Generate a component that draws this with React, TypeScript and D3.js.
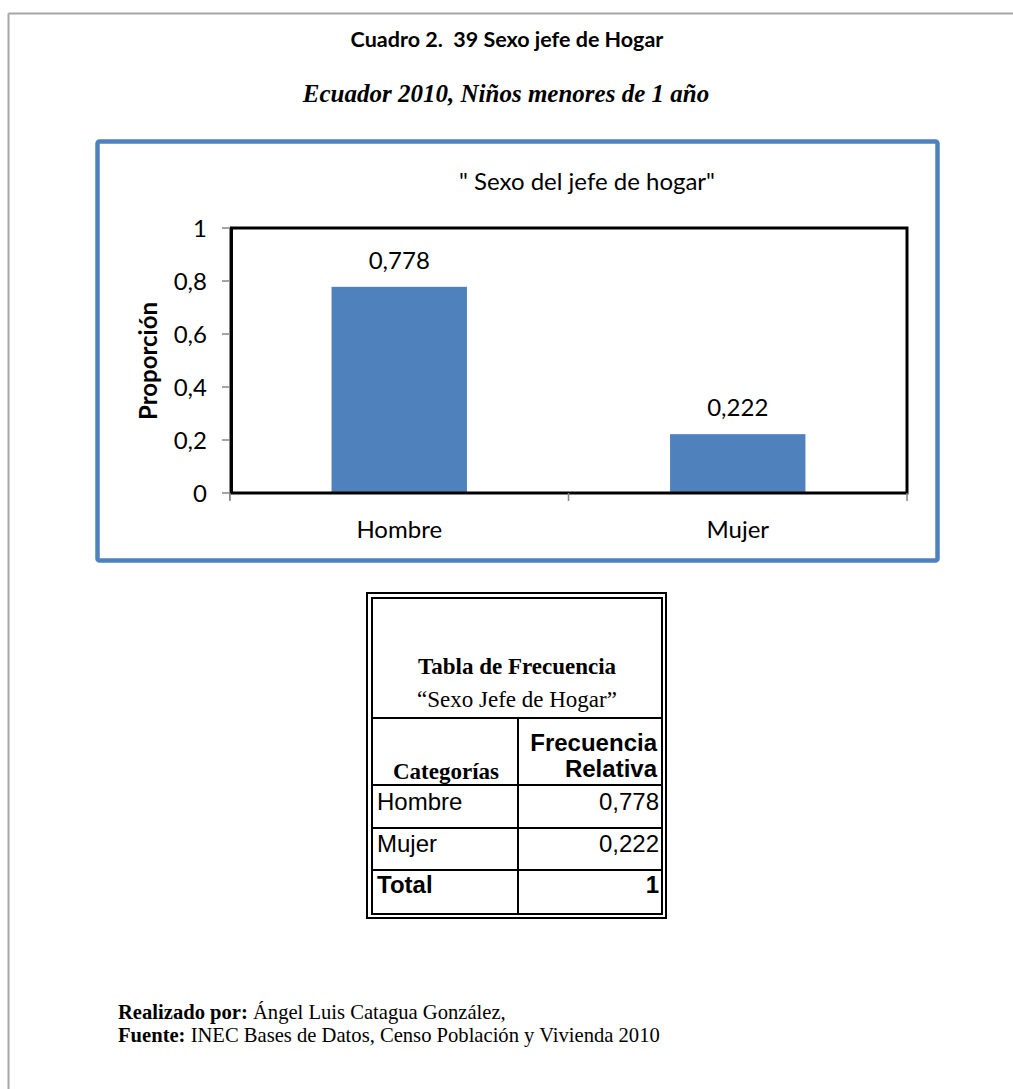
import React from "react";
import * as d3 from "d3";

const categories = ["Hombre", "Mujer"];
const values = [0.778, 0.222];
const yTicks = [0, 0.2, 0.4, 0.6, 0.8, 1];
const tableRows = [
  { cat: "Hombre", val: "0,778" },
  { cat: "Mujer", val: "0,222" },
];
const tableTotal = { cat: "Total", val: "1" };

const fmt = (v: number) => String(v).replace(".", ",");

const CAL = "Lato, 'Open Sans', sans-serif";
const TIMES = "'Liberation Serif', 'Times New Roman', serif";
const ARIAL = "'Liberation Sans', Arial, sans-serif";

export default function App() {
  const W = 1013;
  const H = 1089;
  const px0 = 230, px1 = 907, py0 = 228, py1 = 493;
  const x = d3.scaleBand<string>().domain(categories).range([px0, px1]).padding(0);
  const y = d3.scaleLinear().domain([0, 1]).range([py1, py0]);
  const barW = x.bandwidth() * 0.4;
  const axisGray = "#868686";
  const FS = 24;

  // table geometry
  const tL = 367, tR = 666, tT = 593, tB = 918;
  const iL = 372, iR = 662, iT = 598, iB = 914;
  const colX = 518;
  const hTitle = 718, hHead = 785, hR1 = 828, hR2 = 870;
  const TFS = 23;
  const AFS = 24;

  return (
    <div style={{ position: "absolute", left: 0, top: 0 }}>
      <svg width={W} height={H} style={{ display: "block", background: "#fff" }}>
        {/* page frame */}
        <line x1={8.5} y1={13.5} x2={W} y2={13.5} stroke="#a6a6a6" strokeWidth={2} />
        <line x1={8.5} y1={13.5} x2={8.5} y2={H} stroke="#a6a6a6" strokeWidth={2} />

        <text x={507} y={47} textAnchor="middle" fontFamily={CAL} fontWeight="bold" fontSize={21.5}>
          Cuadro 2.{"\u00A0\u00A0"}39 Sexo jefe de Hogar
        </text>
        <text x={506} y={102} textAnchor="middle" fontFamily={TIMES} fontWeight="bold" fontStyle="italic" fontSize={25}>
          Ecuador 2010, Niños menores de 1 año
        </text>

        {/* chart frame */}
        <rect x={97.5} y={141.5} width={840} height={419} fill="#fff" stroke="#4f81bd" strokeWidth={4.5} rx={2} />

        <text x={587} y={190} textAnchor="middle" fontFamily={CAL} fontSize={FS}>
          " Sexo del jefe de hogar"
        </text>

        {/* bars */}
        {categories.map((c, i) => (
          <rect
            key={c}
            x={(x(c) as number) + (x.bandwidth() - barW) / 2}
            y={y(values[i])}
            width={barW}
            height={y(0) - y(values[i])}
            fill="#4f81bd"
          />
        ))}
        {categories.map((c, i) => (
          <text
            key={c + "l"}
            x={(x(c) as number) + x.bandwidth() / 2}
            y={y(values[i]) - 18}
            textAnchor="middle"
            fontFamily={CAL}
            fontSize={FS}
          >
            {fmt(values[i])}
          </text>
        ))}

        {/* plot border */}
        <rect x={px0 + 1.5} y={py0} width={px1 - px0 - 1.5} height={py1 - py0} fill="none" stroke="#000" strokeWidth={3} />

        {/* y axis */}
        <line x1={px0 - 0.5} y1={py0} x2={px0 - 0.5} y2={py1 + 7} stroke={axisGray} strokeWidth={1} />
        {yTicks.map((t) => (
          <g key={t}>
            <line x1={px0 - 8} x2={px0} y1={y(t)} y2={y(t)} stroke={axisGray} strokeWidth={1.5} />
            <text x={px0 - 23} y={y(t) + 8.5} textAnchor="end" fontFamily={CAL} fontSize={FS}>
              {fmt(t)}
            </text>
          </g>
        ))}
        {/* x axis ticks */}
        {[px0, px0 + x.step(), px1].map((tx, i) => (
          <line key={i} x1={tx} x2={tx} y1={py1} y2={py1 + 8} stroke={axisGray} strokeWidth={1.5} />
        ))}
        {categories.map((c) => (
          <text
            key={c + "x"}
            x={(x(c) as number) + x.bandwidth() / 2}
            y={538}
            textAnchor="middle"
            fontFamily={CAL}
            fontSize={FS}
          >
            {c}
          </text>
        ))}
        <text
          transform={`translate(157,361) rotate(-90)`}
          textAnchor="middle"
          fontFamily={CAL}
          fontWeight="bold"
          fontSize={FS}
        >
          Proporción
        </text>

        {/* table */}
        <rect x={tL} y={tT} width={tR - tL} height={tB - tT} fill="none" stroke="#000" strokeWidth={2} />
        <rect x={iL} y={iT} width={iR - iL} height={iB - iT} fill="none" stroke="#000" strokeWidth={2} />
        {[hTitle, hHead, hR1, hR2].map((hy) => (
          <line key={hy} x1={iL} x2={iR} y1={hy} y2={hy} stroke="#000" strokeWidth={2} />
        ))}
        <line x1={colX} x2={colX} y1={hTitle} y2={iB} stroke="#000" strokeWidth={2} />

        <text x={517} y={674} textAnchor="middle" fontFamily={TIMES} fontWeight="bold" fontSize={TFS}>
          Tabla de Frecuencia
        </text>
        <text x={517} y={707} textAnchor="middle" fontFamily={TIMES} fontSize={TFS}>
          “Sexo Jefe de Hogar”
        </text>
        <text x={446} y={779} textAnchor="middle" fontFamily={TIMES} fontWeight="bold" fontSize={TFS}>
          Categorías
        </text>
        <text x={657} y={751} textAnchor="end" fontFamily={ARIAL} fontWeight="bold" fontSize={AFS}>
          Frecuencia
        </text>
        <text x={657} y={777} textAnchor="end" fontFamily={ARIAL} fontWeight="bold" fontSize={AFS}>
          Relativa
        </text>
        {tableRows.map((r, i) => {
          const base = [810, 852][i];
          return (
            <g key={r.cat}>
              <text x={377} y={base} fontFamily={ARIAL} fontSize={AFS}>{r.cat}</text>
              <text x={659} y={base} textAnchor="end" fontFamily={ARIAL} fontSize={AFS}>{r.val}</text>
            </g>
          );
        })}
        <text x={377} y={893} fontFamily={ARIAL} fontWeight="bold" fontSize={AFS}>{tableTotal.cat}</text>
        <text x={659} y={893} textAnchor="end" fontFamily={ARIAL} fontWeight="bold" fontSize={AFS}>{tableTotal.val}</text>

        {/* footer */}
        <text x={118} y={1019} fontFamily={TIMES} fontSize={20.6}>
          <tspan fontWeight="bold">Realizado por:</tspan> Ángel Luis Catagua González,
        </text>
        <text x={118} y={1042} fontFamily={TIMES} fontSize={20.6}>
          <tspan fontWeight="bold">Fuente:</tspan> INEC Bases de Datos, Censo Población y Vivienda 2010
        </text>
      </svg>
    </div>
  );
}
